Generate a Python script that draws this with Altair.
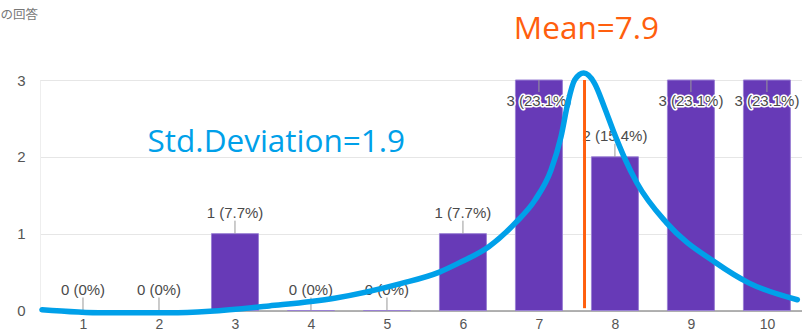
import altair as alt
import pandas as pd

# ---- data ----
categories = [1, 2, 3, 4, 5, 6, 7, 8, 9, 10]
counts = [0, 0, 1, 0, 0, 1, 3, 2, 3, 3]
percents = ["0%", "0%", "7.7%", "0%", "0%", "7.7%", "23.1%", "15.4%", "23.1%", "23.1%"]

# hand-drawn blue curve (x in category units, y in counts)
curve_x = [0.46, 1.28, 2.15, 2.67, 3.45, 4.31, 5.18, 5.69, 5.95, 6.34, 6.69, 6.95,
           7.16, 7.29, 7.38, 7.47, 7.59, 7.73, 7.86, 7.99, 8.12, 8.29, 8.68, 9.33,
           9.76, 10.40]
curve_y = [0.01, -0.03, -0.03, -0.01, 0.06, 0.16, 0.35, 0.50, 0.62, 0.83, 1.14, 1.44,
           1.83, 2.26, 2.70, 3.00, 3.09, 2.96, 2.65, 2.31, 2.00, 1.66, 1.14, 0.62,
           0.36, 0.14]

mean_pos = [7.6]
mean_top = [3.0]
mean_bottom = [0.03]
mean_label = ["Mean=7.9"]
mean_label_pos = [6.67, 3.535]
std_label = ["Std.Deviation=1.9"]
std_label_pos = [1.85, 2.06]
header = ["の回答"]

bars = pd.DataFrame({
    "cat": categories,
    "count": counts,
    "label": [f"{c} ({p})" for c, p in zip(counts, percents)],
})
curve = pd.DataFrame({"x": curve_x, "y": curve_y})
mean_df = pd.DataFrame({"x": mean_pos, "top": mean_top, "bottom": mean_bottom})
ann = pd.DataFrame({
    "x": [mean_label_pos[0], std_label_pos[0]],
    "y": [mean_label_pos[1], std_label_pos[1]],
    "text": [mean_label[0], std_label[0]],
    "kind": ["mean", "std"],
})
head_df = pd.DataFrame({"t": header})

FONT = "Liberation Sans"

xscale = alt.Scale(domain=[0.5, 10.396], nice=False, zero=False)
yscale = alt.Scale(domain=[0, 3], nice=False, zero=True)

X = alt.X("cat:Q", scale=xscale, title=None,
          axis=alt.Axis(values=categories, format="d", ticks=False, grid=False,
                        labelPadding=7, labelFontSize=14, labelColor="#555555",
                        labelFont=FONT, domainColor="#777777", domainWidth=1))
Y = alt.Y("count:Q", scale=yscale, title=None,
          axis=alt.Axis(values=[0, 0.5, 1, 1.5, 2, 2.5, 3], format="d",
                        labelExpr="datum.value % 1 === 0 ? datum.label : ''",
                        ticks=False, labelPadding=15, labelFontSize=15,
                        labelColor="#555555", labelFont=FONT,
                        domainColor="#eeeeee",
                        gridColor={"condition": {"test": "datum.value % 1 === 0",
                                                 "value": "#e6e6e6"},
                                   "value": "#f3f3f3"}))

base = alt.Chart(bars)

bar_layer = base.mark_bar(size=47, color="#673AB7", stroke="#9a80d4",
                          strokeWidth=1).encode(x=X, y=Y)

low = base.transform_filter("datum.count < 3")
high = base.transform_filter("datum.count >= 3")

tick_low = low.mark_rule(color="#999999", strokeWidth=1, y2Offset=-13).encode(
    x="cat:Q", y="count:Q", y2=alt.Y2("count"))
tick_high = high.mark_rule(color="#999999", strokeWidth=1, y2Offset=12).encode(
    x="cat:Q", y="count:Q", y2=alt.Y2("count"))

txt_kw = dict(font=FONT, fontSize=15, align="center", baseline="middle")
halo_low = low.mark_text(dy=-21, stroke="white", strokeWidth=3, color="white",
                         strokeJoin="round", **txt_kw).encode(
    x="cat:Q", y="count:Q", text="label:N")
lab_low = low.mark_text(dy=-21, color="#4a4a4a", **txt_kw).encode(
    x="cat:Q", y="count:Q", text="label:N")
halo_high = high.mark_text(dy=21, stroke="white", strokeWidth=3, color="white",
                           strokeJoin="round", **txt_kw).encode(
    x="cat:Q", y="count:Q", text="label:N")
lab_high = high.mark_text(dy=21, color="#4a4a4a", **txt_kw).encode(
    x="cat:Q", y="count:Q", text="label:N")

mean_rule = alt.Chart(mean_df).mark_rule(color="#FF5F0E", strokeWidth=3).encode(
    x="x:Q", y="top:Q", y2="bottom:Q")

curve_layer = alt.Chart(curve).mark_line(
    color="#00A0E9", strokeWidth=5.5, interpolate="monotone", clip=False,
    strokeCap="round").encode(x="x:Q", y="y:Q")

ann_layer = alt.Chart(ann).mark_text(
    font="Open Sans", fontSize=31.5, align="left", baseline="alphabetic").encode(
    x="x:Q", y="y:Q", text="text:N",
    color=alt.Color("kind:N", scale=alt.Scale(domain=["mean", "std"],
                                              range=["#FF5F0E", "#00A0E9"]),
                    legend=None))

head_layer = alt.Chart(head_df).mark_text(
    font="Noto Sans CJK JP", fontSize=12.5, align="right", baseline="alphabetic",
    color="#777777").encode(x=alt.value(-2), y=alt.value(-61), text="t:N")

chart = alt.layer(
    bar_layer, tick_low, tick_high, halo_low, lab_low, halo_high, lab_high,
    mean_rule, curve_layer, ann_layer, head_layer
).properties(
    width=762, height=230.5,
    autosize=alt.AutoSizeParams(type="none"),
    padding={"left": 40, "top": 80, "right": 0, "bottom": 24.5},
).configure_view(stroke=None).configure(background="white")

chart.save("out.html", embed_options={"renderer": "svg", "actions": False})
